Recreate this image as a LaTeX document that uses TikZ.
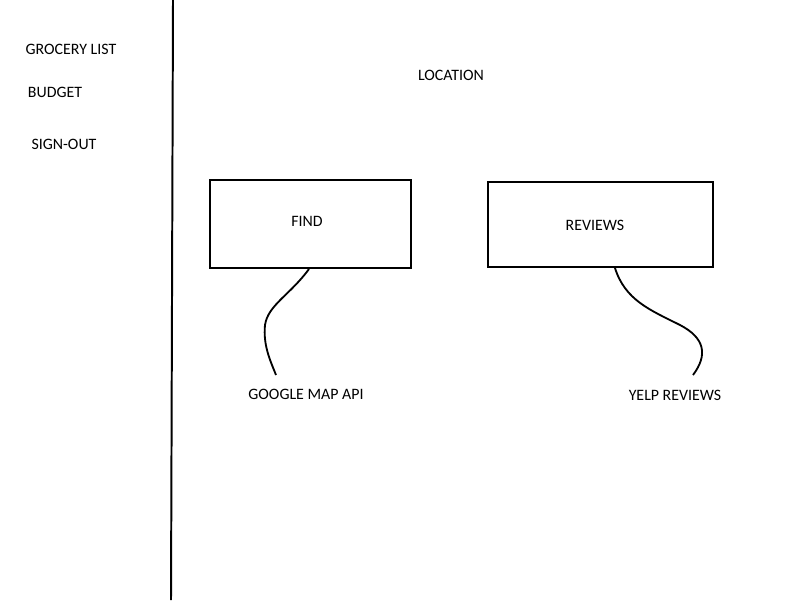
\documentclass[tikz,border=0pt]{standalone}
\usepackage{fontspec}
\setmainfont{Carlito}
\begin{document}
\begin{tikzpicture}[x=0.025cm,y=-0.025cm,
  lbl/.style={inner sep=0pt,font=\fontsize{11.3pt}{13pt}\selectfont},
  boxn/.style={draw,line width=1.4pt,inner sep=0pt},
  wire/.style={line width=1.3pt}]
\useasboundingbox (0,0) rectangle (800,600);
\coordinate (vtop) at (173,0);
\coordinate (vbot) at (171,600);
\draw[line width=1.4pt] (vtop) -- (vbot);
\node[lbl] (groc) at (71,49) {GROCERY LIST};
\node[lbl] (budg) at (55,92) {BUDGET};
\node[lbl] (sign) at (64,144) {SIGN-OUT};
\node[lbl] (loc) at (451,75) {LOCATION};
\node[boxn,minimum width=201*0.025cm,minimum height=88*0.025cm] (find) at (310.5,224) {};
\node[lbl] (findt) at (307,221) {FIND};
\node[boxn,minimum width=225*0.025cm,minimum height=85*0.025cm] (rev) at (600.5,224.5) {};
\node[lbl] (revt) at (595,225) {REVIEWS};
\node[lbl] (gmap) at (306,394) {GOOGLE MAP API};
\node[lbl] (yelp) at (675,395) {YELP REVIEWS};
\coordinate (f0) at (find.south -| 309,0);
\coordinate (f1) at (276,375);
\coordinate (r0) at (rev.south -| 615,0);
\coordinate (r1) at (693,375);
\draw[wire] (f0) .. controls (290,295) and (268,305) .. (265,325)
  .. controls (263,345) and (270,360) .. (f1);
\draw[wire] (r0) .. controls (625,300) and (650,310) .. (680,325)
  .. controls (705,338) and (708,355) .. (r1);
\end{tikzpicture}
\end{document}
